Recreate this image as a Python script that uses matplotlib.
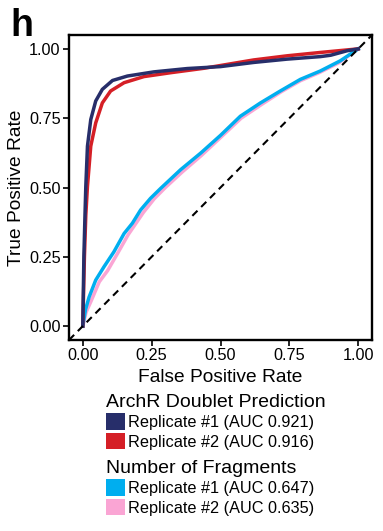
import matplotlib
matplotlib.use("Agg")
import matplotlib.pyplot as plt
from matplotlib.patches import Patch

plt.rcParams['font.family'] = ['Liberation Sans', 'DejaVu Sans']

# ROC curves
archr1_fpr = [0, 0.004, 0.008, 0.011, 0.017, 0.029, 0.047, 0.071, 0.108, 0.162, 0.258, 0.379, 0.5, 0.62, 0.742, 0.862, 0.9, 0.959, 1.0]
archr1_tpr = [0, 0.25, 0.40, 0.504, 0.649, 0.745, 0.812, 0.854, 0.886, 0.902, 0.917, 0.929, 0.936, 0.951, 0.963, 0.972, 0.977, 0.993, 1.0]

archr2_fpr = [0, 0.006, 0.011, 0.017, 0.029, 0.047, 0.071, 0.101, 0.15, 0.222, 0.319, 0.44, 0.5, 0.62, 0.742, 0.862, 1.0]
archr2_tpr = [0, 0.25, 0.40, 0.504, 0.649, 0.733, 0.805, 0.848, 0.878, 0.9, 0.914, 0.93, 0.94, 0.96, 0.975, 0.987, 1.0]

frag1_fpr = [0, 0.01, 0.023, 0.047, 0.077, 0.113, 0.15, 0.18, 0.21, 0.246, 0.283, 0.355, 0.428, 0.5, 0.572, 0.645, 0.717, 0.79, 0.862, 0.935, 1.0]
frag1_tpr = [0, 0.06, 0.105, 0.166, 0.214, 0.268, 0.334, 0.371, 0.419, 0.461, 0.497, 0.564, 0.624, 0.688, 0.757, 0.805, 0.848, 0.89, 0.92, 0.957, 1.0]

frag2_fpr = [0, 0.012, 0.03, 0.06, 0.09, 0.125, 0.165, 0.22, 0.26, 0.3, 0.36, 0.43, 0.5, 0.575, 0.65, 0.72, 0.79, 0.86, 0.93, 1.0]
frag2_tpr = [0, 0.05, 0.09, 0.16, 0.2, 0.26, 0.33, 0.41, 0.46, 0.5, 0.555, 0.615, 0.68, 0.75, 0.8, 0.845, 0.885, 0.915, 0.95, 1.0]

archr_labels = ["Replicate #1 (AUC 0.921)", "Replicate #2 (AUC 0.916)"]
frag_labels = ["Replicate #1 (AUC 0.647)", "Replicate #2 (AUC 0.635)"]
ticks = [0, 0.25, 0.5, 0.75, 1.0]
tick_labels = ["0.00", "0.25", "0.50", "0.75", "1.00"]

NAVY = "#272E6A"
RED = "#D51F26"
BLUE = "#00AEEF"
PINK = "#FAA5D4"

fig = plt.figure(figsize=(3.83, 5.31), dpi=100)
ax = fig.add_axes([69/383, 1-340/531, 303/383, 305/531])

lw = 2.5
ax.plot(frag2_fpr, frag2_tpr, color=PINK, lw=lw, solid_joinstyle='round')
ax.plot(frag1_fpr, frag1_tpr, color=BLUE, lw=lw, solid_joinstyle='round')
ax.plot(archr2_fpr, archr2_tpr, color=RED, lw=lw, solid_joinstyle='round')
ax.plot(archr1_fpr, archr1_tpr, color=NAVY, lw=lw, solid_joinstyle='round')
ax.plot([-0.05, 1.05], [-0.05, 1.05], color='black', lw=1.5, linestyle=(0, (3.5, 2.5)))

ax.set_xlim(-0.05, 1.05)
ax.set_ylim(-0.05, 1.05)
ax.set_xticks(ticks)
ax.set_xticklabels(tick_labels)
ax.set_yticks(ticks)
ax.set_yticklabels(tick_labels)
ax.tick_params(length=4, width=1.2, labelsize=11.7, colors='black', pad=2)
for s in ax.spines.values():
    s.set_linewidth(1.7)
ax.set_xlabel("False Positive Rate", fontsize=13.8, labelpad=4)
ax.set_ylabel("True Positive Rate", fontsize=13.8, labelpad=3)

fig.text(10/383, 1-36/531, "h", fontsize=27, fontweight='bold', ha='left', va='baseline')

def make_legend(colors, labels, title, top):
    handles = [Patch(facecolor=c, edgecolor='none') for c in colors]
    leg = fig.legend(handles, labels, title=title, loc='upper left',
                     bbox_to_anchor=(106/383, 1-top/531), frameon=False,
                     fontsize=11.7, title_fontsize=14, alignment='left',
                     handlelength=1.15, handleheight=1.2, handletextpad=0.2,
                     labelspacing=0.15, borderpad=0, borderaxespad=0)
    return leg

make_legend([NAVY, RED], archr_labels, "ArchR Doublet Prediction", 394)
make_legend([BLUE, PINK], frag_labels, "Number of Fragments", 460)

fig.savefig("out.png", dpi=100)
